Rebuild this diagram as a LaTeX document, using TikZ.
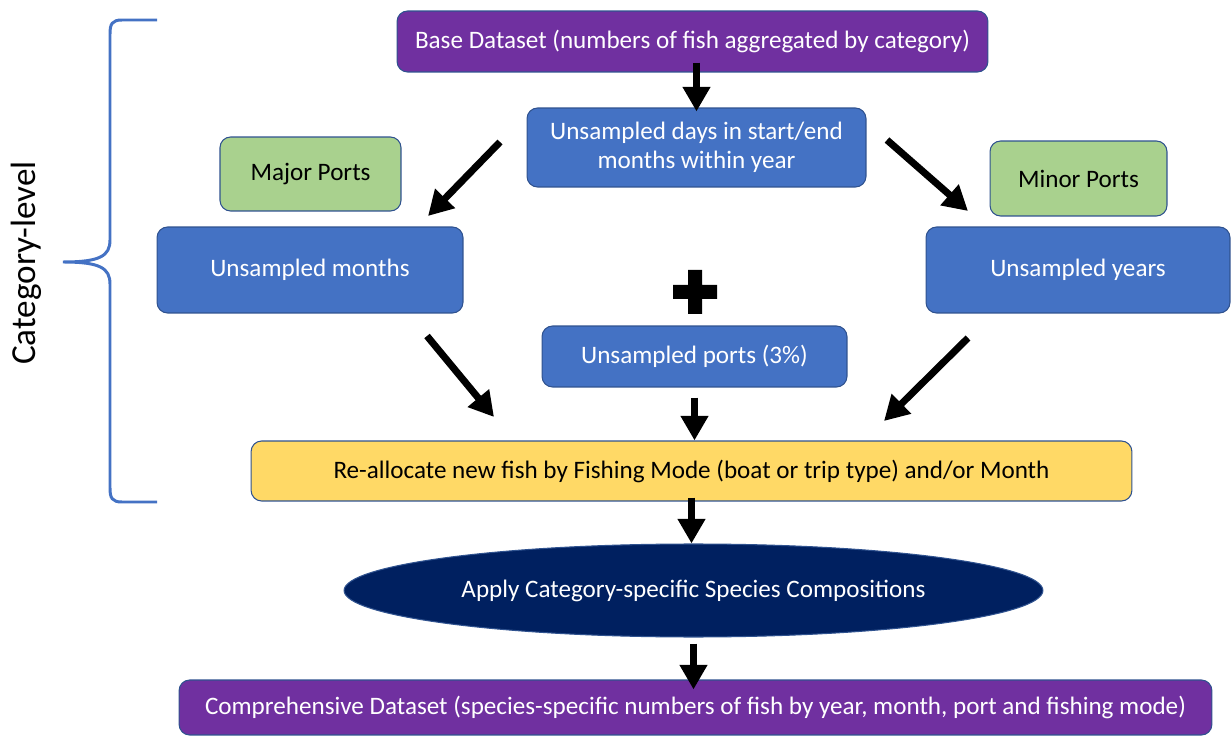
\documentclass[tikz,border=0pt]{standalone}
\usepackage{fontspec}
\setmainfont{Carlito}
\usepackage{tikz}
\usetikzlibrary{positioning,arrows.meta,calc,shapes.geometric}
\definecolor{catPurple}{HTML}{7030A0}
\definecolor{catBlue}{HTML}{4472C4}
\definecolor{catEdge}{HTML}{2F528F}
\definecolor{catGreen}{HTML}{A9D18E}
\definecolor{catYellow}{HTML}{FFD966}
\definecolor{catNavy}{HTML}{002060}
\newcommand{\boxfont}{\fontsize{14.3}{16.8}\selectfont}
\tikzset{
  datasetbox/.style={draw=catEdge,fill=catPurple,rounded corners=6pt,line width=0.6pt,
    text=white,inner sep=0pt,align=center,font=\boxfont},
  stepbox/.style={draw=catEdge,fill=catBlue,rounded corners=6pt,line width=0.6pt,
    text=white,inner sep=0pt,align=center,font=\boxfont},
  portbox/.style={draw=catEdge,fill=catGreen,rounded corners=6pt,line width=0.6pt,
    text=black,inner sep=0pt,align=center,font=\boxfont},
  yellowbox/.style={draw=catEdge,fill=catYellow,rounded corners=6pt,line width=0.6pt,
    text=black,inner sep=0pt,align=center,font=\boxfont},
  navyellipse/.style={ellipse,draw=catEdge,fill=catNavy,line width=0.6pt,
    text=white,inner sep=0pt,align=center,font=\boxfont},
  arrow/.style={-{Triangle[length=14pt,width=15pt]},line width=4pt,draw=black},
  bracestyle/.style={draw=catBlue,line width=1.7pt}
}

\begin{document}
\begin{tikzpicture}[x=0.02cm,y=-0.02cm]
  \useasboundingbox (0,0) rectangle (1231,736);

  \node[datasetbox, minimum width=11.82cm, minimum height=1.22cm] (base) at (692.5,41.5)
    {Base Dataset (numbers of fish aggregated by category)};
  \node[stepbox, minimum width=6.78cm, minimum height=1.58cm] (days) at (696.5,147.5)
    {Unsampled days in start/end\\months within year};
  \node[portbox, minimum width=3.62cm, minimum height=1.48cm] (major) at (310.5,174) {Major Ports};
  \node[portbox, minimum width=3.54cm, minimum height=1.50cm] (minor) at (1078.5,178.5) {Minor Ports};
  \node[stepbox, minimum width=6.12cm, minimum height=1.72cm] (months) at (310,270) {Unsampled months};
  \node[stepbox, minimum width=6.08cm, minimum height=1.72cm] (years) at (1078,270) {Unsampled years};
  \node[stepbox, minimum width=6.10cm, minimum height=1.22cm] (ports) at (694.5,356.5) {Unsampled ports (3\%)};
  \node[yellowbox, minimum width=17.62cm, minimum height=1.20cm] (realloc) at (691.5,471)
    {Re-allocate new fish by Fishing Mode (boat or trip type) and/or Month};
  \node[navyellipse, minimum width=13.98cm, minimum height=1.86cm] (apply) at (693.5,590.5)
    {Apply Category-specific Species Compositions};
  \node[datasetbox, minimum width=20.66cm, minimum height=1.10cm] (comp) at (695.5,707.5)
    {Comprehensive Dataset (species-specific numbers of fish by year, month, port and fishing mode)};

  % plus sign
  \coordinate (plus) at (695,292);
  \fill[black] ($(plus)+(-7,-22)$) rectangle ($(plus)+(7,22)$)
               ($(plus)+(-22,-7)$) rectangle ($(plus)+(22,7)$);

  % brace and side label
  \coordinate (bracetop) at (157,20);
  \coordinate (bracetip) at (63,262);
  \coordinate (bracebot) at (157,502);
  \draw[bracestyle] (bracetop) -- (122,20) .. controls (112,20) and (110,24) .. (110,34)
    -- (110,240) .. controls (110,256) and (100,262) .. (bracetip)
    .. controls (100,262) and (110,268) .. (110,284)
    -- (110,488) .. controls (110,498) and (112,502) .. (122,502) -- (bracebot);
  \node[rotate=90, font=\fontsize{20}{24}\selectfont] (catlevel) at (26,263) {Category-level};

  % free ends of the slanted arrows
  \coordinate (dl0) at (500,142);
  \coordinate (dl1) at (428,216);
  \coordinate (dr0) at (887,140);
  \coordinate (dr1) at (968,211);
  \coordinate (ml0) at (427,336);
  \coordinate (ml1) at (494,417);
  \coordinate (yr0) at (968,338);
  \coordinate (yr1) at (884,421);

  \draw[arrow, shorten <=-0.2cm, shorten >=-0.08cm] (base.south -| days.north) -- (days.north);
  \draw[arrow] (dl0) -- (dl1);
  \draw[arrow] (dr0) -- (dr1);
  \draw[arrow] (ml0) -- (ml1);
  \draw[arrow] (yr0) -- (yr1);
  \draw[arrow, shorten <=0.2cm] (ports.south) -- (ports.south |- realloc.north);
  \draw[arrow, shorten <=-0.08cm] (realloc.south) -- (realloc.south |- apply.north);
  \draw[arrow, shorten <=0.12cm, shorten >=-0.2cm] (apply.south) -- (apply.south |- comp.north);
\end{tikzpicture}
\end{document}
